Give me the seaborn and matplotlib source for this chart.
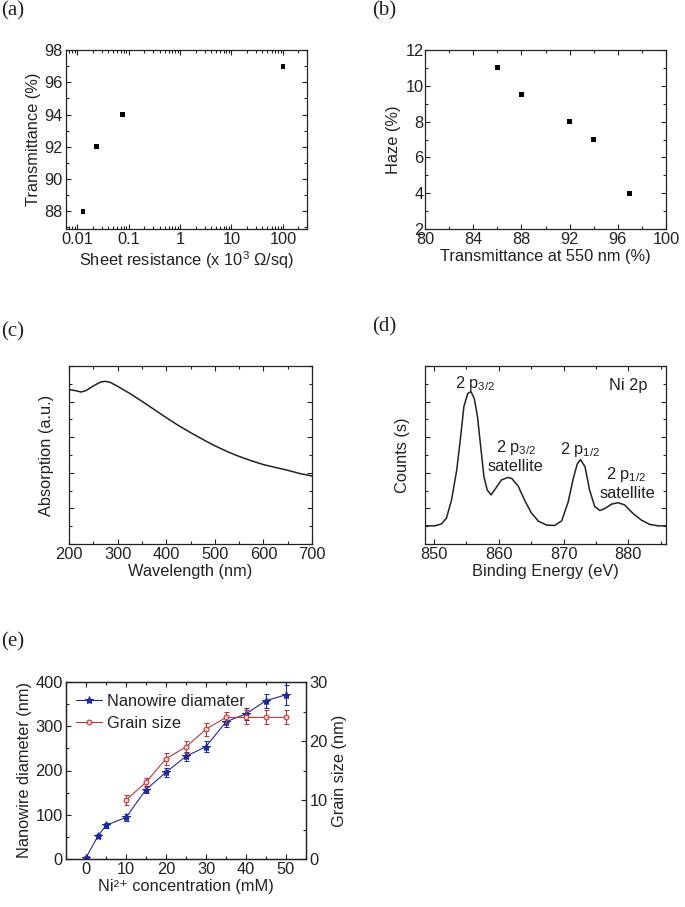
import matplotlib
matplotlib.use("Agg")
import matplotlib.pyplot as plt
import seaborn as sns
from matplotlib.ticker import MultipleLocator, LogLocator, NullFormatter

# (a) transmittance vs sheet resistance
sheet_res = [0.013, 0.024, 0.075, 100]
trans_a = [88, 92, 94, 97]

# (b) haze vs transmittance
trans_b = [86, 88, 92, 94, 97]
haze = [11, 9.5, 8, 7, 4]

# (c) absorption spectrum
wavelength = [200, 212, 225, 235, 250, 265, 275, 285, 300, 325, 350, 375, 400,
              425, 450, 475, 500, 525, 550, 575, 600, 625, 650, 675, 700]
absorption = [4.34, 4.31, 4.27, 4.31, 4.44, 4.55, 4.57, 4.54, 4.43, 4.23, 4.01,
              3.78, 3.55, 3.33, 3.13, 2.94, 2.76, 2.60, 2.46, 2.34, 2.23, 2.15,
              2.07, 1.98, 1.91]

# (d) XPS Ni 2p
energy = [848.6, 850.1, 851.1, 851.9, 852.7, 853.5, 854.1, 854.6, 855.2, 855.7,
          856.2, 856.7, 857.2, 857.7, 858.2, 858.8, 859.5, 860.4, 861.4, 862.0,
          863.0, 864.0, 865.0, 866.1, 867.4, 868.6, 869.7, 870.7, 871.5, 872.1,
          872.6, 873.3, 874.0, 874.8, 875.6, 876.4, 877.4, 878.4, 879.4, 880.7,
          882.0, 883.3, 884.6, 885.8]
counts = [0.51, 0.51, 0.56, 0.72, 1.24, 2.08, 3.01, 3.86, 4.23, 4.28,
          4.09, 3.58, 2.73, 1.89, 1.52, 1.38, 1.56, 1.80, 1.87, 1.84,
          1.62, 1.22, 0.88, 0.64, 0.53, 0.52, 0.65, 1.18, 1.85, 2.25,
          2.37, 2.17, 1.52, 1.05, 0.94, 1.00, 1.12, 1.16, 1.10, 0.86,
          0.67, 0.55, 0.51, 0.51]

# (e) nanowire diameter and grain size
conc_d = [0, 3, 5, 10, 15, 20, 25, 30, 35, 40, 45, 50]
diameter = [3, 52, 76, 94, 157, 196, 232, 254, 310, 328, 358, 371]
diameter_err = [3, 5, 5, 7, 8, 10, 10, 13, 12, 14, 16, 22]
conc_g = [10, 15, 20, 25, 30, 35, 40, 45, 50]
grain = [10, 13, 17, 19, 22, 24, 24, 24, 24]
grain_err = [0.8, 0.8, 1.0, 1.0, 1.1, 1.0, 1.2, 1.2, 1.2]

sns.set_style("ticks")
plt.rcParams['font.family'] = ['Liberation Sans', 'DejaVu Sans']
plt.rcParams['mathtext.fontset'] = 'custom'
plt.rcParams['mathtext.rm'] = 'Liberation Sans'
plt.rcParams['mathtext.it'] = 'Liberation Sans'
plt.rcParams['text.color'] = '#222222'
plt.rcParams['axes.labelcolor'] = '#222222'
FS = 11.8

fig = plt.figure(figsize=(6.85, 9.07), dpi=100)
W, H = 685, 907


def add_ax(x0, y0, x1, y1):
    return fig.add_axes([x0 / W, 1 - y1 / H, (x1 - x0) / W, (y1 - y0) / H])


def style(ax, right=True):
    ax.tick_params(which='both', direction='in', top=True, right=right,
                   labelsize=FS, colors='#222222', width=0.8, pad=2.5)
    ax.tick_params(which='major', length=3.5)
    ax.tick_params(which='minor', length=2)
    for s in ax.spines.values():
        s.set_linewidth(0.9)
        s.set_color('#222222')


def panel_label(x, y, txt):
    fig.text(x / W, 1 - y / H, txt, ha='left', va='top',
             family='Liberation Serif', fontsize=15)


# (a)
ax_a = add_ax(66, 50, 307, 229)
sns.scatterplot(x=sheet_res, y=trans_a, ax=ax_a, marker='s', s=12,
                color='black', edgecolor='none')
ax_a.set_xscale('log')
ax_a.set_xlim(0.0061, 293)
ax_a.set_ylim(86.9, 98)
ax_a.set_xticks([0.01, 0.1, 1, 10, 100])
ax_a.set_xticklabels(['0.01', '0.1', '1', '10', '100'])
ax_a.xaxis.set_minor_locator(LogLocator(base=10, subs=range(2, 10), numticks=20))
ax_a.xaxis.set_minor_formatter(NullFormatter())
ax_a.yaxis.set_major_locator(MultipleLocator(2))
ax_a.yaxis.set_minor_locator(MultipleLocator(1))
ax_a.set_xlabel('Sheet resistance (x 10$^3$ Ω/sq)', fontsize=FS, labelpad=1)
ax_a.set_ylabel('Transmittance (%)', fontsize=FS, labelpad=2)
style(ax_a)
panel_label(1, 1, '(a)')

# (b)
ax_b = add_ax(425, 50, 666, 229)
sns.scatterplot(x=trans_b, y=haze, ax=ax_b, marker='s', s=12,
                color='black', edgecolor='none')
ax_b.set_xlim(80, 100)
ax_b.set_ylim(2, 12)
ax_b.xaxis.set_major_locator(MultipleLocator(4))
ax_b.xaxis.set_minor_locator(MultipleLocator(2))
ax_b.yaxis.set_major_locator(MultipleLocator(2))
ax_b.yaxis.set_minor_locator(MultipleLocator(1))
ax_b.set_xlabel('Transmittance at 550 nm (%)', fontsize=FS, labelpad=1)
ax_b.set_ylabel('Haze (%)', fontsize=FS, labelpad=3)
style(ax_b)
ax_b.tick_params(axis='y', pad=1)
panel_label(372, 1, '(b)')

# (c)
ax_c = add_ax(69, 366, 312, 544)
sns.lineplot(x=wavelength, y=absorption, ax=ax_c, color='#222222', linewidth=1.1)
ax_c.set_xlim(200, 700)
ax_c.set_ylim(0, 5)
ax_c.xaxis.set_major_locator(MultipleLocator(100))
ax_c.xaxis.set_minor_locator(MultipleLocator(50))
ax_c.yaxis.set_major_locator(MultipleLocator(1))
ax_c.yaxis.set_minor_locator(MultipleLocator(0.5))
ax_c.set_yticklabels([])
ax_c.set_xlabel('Wavelength (nm)', fontsize=FS, labelpad=1)
ax_c.set_ylabel('Absorption (a.u.)', fontsize=FS, labelpad=8)
style(ax_c)
panel_label(1, 322, '(c)')

# (d)
ax_d = add_ax(425, 366, 666, 544)
sns.lineplot(x=energy, y=counts, ax=ax_d, color='#222222', linewidth=1.1)
ax_d.set_xlim(848.6, 885.8)
ax_d.set_ylim(0, 5)
ax_d.xaxis.set_major_locator(MultipleLocator(10))
ax_d.xaxis.set_minor_locator(MultipleLocator(5))
ax_d.yaxis.set_major_locator(MultipleLocator(1))
ax_d.yaxis.set_minor_locator(MultipleLocator(0.5))
ax_d.set_yticklabels([])
ax_d.set_xlabel('Binding Energy (eV)', fontsize=FS, labelpad=1)
ax_d.set_ylabel('Counts (s)', fontsize=FS, labelpad=8)
style(ax_d)
ax_d.text(856.3, 4.5, '2 p$_{3/2}$', ha='center', va='center', fontsize=FS)
ax_d.text(862.6, 2.72, '2 p$_{3/2}$', ha='center', va='center', fontsize=FS)
ax_d.text(862.6, 2.18, 'satellite', ha='center', va='center', fontsize=FS)
ax_d.text(872.5, 2.66, '2 p$_{1/2}$', ha='center', va='center', fontsize=FS)
ax_d.text(879.6, 1.95, '2 p$_{1/2}$', ha='center', va='center', fontsize=FS)
ax_d.text(879.8, 1.42, 'satellite', ha='center', va='center', fontsize=FS)
ax_d.text(880.0, 4.45, 'Ni 2p', ha='center', va='center', fontsize=FS)
panel_label(372, 317, '(d)')

# (e)
blue = '#1f2a9a'
red = '#b23a3a'
ax_e = add_ax(66, 682, 306, 859)
ax_e2 = ax_e.twinx()
ax_e.errorbar(conc_d, diameter, yerr=diameter_err, fmt='none', ecolor=blue,
              elinewidth=0.8, capsize=1.8, capthick=0.8)
sns.lineplot(x=conc_d, y=diameter, ax=ax_e, color=blue, linewidth=0.8,
             marker='*', markersize=6, markeredgecolor=blue,
             label='Nanowire diamater', legend=False)
ax_e2.errorbar(conc_g, grain, yerr=grain_err, fmt='none', ecolor=red,
               elinewidth=0.8, capsize=1.8, capthick=0.8)
sns.lineplot(x=conc_g, y=grain, ax=ax_e2, color=red, linewidth=0.8,
             marker='o', markersize=3.5, markerfacecolor='#f0c8c8',
             markeredgecolor=red, label='Grain size', legend=False)
ax_e.set_xlim(-5, 55)
ax_e.set_ylim(0, 400)
ax_e2.set_ylim(0, 30)
ax_e.xaxis.set_major_locator(MultipleLocator(10))
ax_e.xaxis.set_minor_locator(MultipleLocator(5))
ax_e.yaxis.set_major_locator(MultipleLocator(100))
ax_e.yaxis.set_minor_locator(MultipleLocator(50))
ax_e2.yaxis.set_major_locator(MultipleLocator(10))
ax_e2.yaxis.set_minor_locator(MultipleLocator(5))
ax_e.set_xlabel('Ni²⁺ concentration (mM)', fontsize=FS, labelpad=1)
ax_e.set_ylabel('Nanowire diameter (nm)', fontsize=FS, labelpad=2)
ax_e2.set_ylabel('Grain size (nm)', fontsize=FS, labelpad=3)
style(ax_e, right=False)
style(ax_e2)
ax_e2.tick_params(which='both', left=False, top=False)
h1, l1 = ax_e.get_legend_handles_labels()
h2, l2 = ax_e2.get_legend_handles_labels()
ax_e2.legend(h1 + h2, l1 + l2, loc='upper left', frameon=False, fontsize=FS,
             handlelength=1.6, handletextpad=0.3, labelspacing=0.45,
             borderaxespad=0.2, bbox_to_anchor=(0.0, 0.99))
panel_label(1, 632, '(e)')

fig.savefig('out.png', dpi=100)
